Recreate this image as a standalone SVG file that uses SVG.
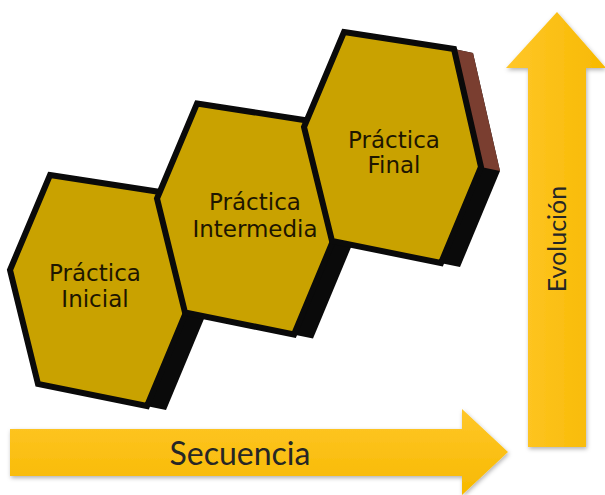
<svg xmlns="http://www.w3.org/2000/svg" width="605" height="495" viewBox="0 0 605 495">
<defs>
<style>
.hex{fill:#C9A200;stroke:#0A0A0A;stroke-width:6;stroke-linejoin:miter}
.ext{fill:#0A0A0A}
.side{fill:#7A3E30}
.lbl{font-family:"DejaVu Sans",Verdana,sans-serif;font-size:23px;fill:#1E1600;text-anchor:middle}
.arr{font-family:Lato,"Liberation Sans",sans-serif;fill:#262626;text-anchor:middle}
</style>
<linearGradient id="gh" x1="0" y1="0" x2="0" y2="1">
<stop offset="0" stop-color="#FFC72A"/>
<stop offset="1" stop-color="#F7B900"/>
</linearGradient>
<linearGradient id="gv" x1="0" y1="0" x2="1" y2="0">
<stop offset="0" stop-color="#FFC72A"/>
<stop offset="1" stop-color="#F7B900"/>
</linearGradient>
<filter id="sh" x="-10%" y="-10%" width="120%" height="130%">
<feDropShadow dx="1" dy="2" stdDeviation="2" flood-color="#000" flood-opacity="0.3"/>
</filter>
<polygon id="hexshape" points="50,175 160,192 187,310 147,406 38,384 10,270"/>
<polygon id="hexext" points="50,175 160,192 179,196 206,314 166,410 38,384 10,270"/>
</defs>
<rect width="605" height="495" fill="#FFFFFF"/>
<g id="connectors">
<polygon id="arrow-secuencia" points="10,429 462,429 462,409 508,452 462,495 462,476 10,476" fill="url(#gh)" filter="url(#sh)"/>
<polygon id="arrow-evolucion" points="557,12 606,68 586,68 586,447 528,447 528,68 506,68" fill="url(#gv)" filter="url(#sh)"/>
</g>
<g id="label-secuencia"><text class="arr" x="240" y="465" font-size="32">Secuencia</text></g>
<g id="label-evolucion"><text class="arr" font-size="25" transform="translate(566,239) rotate(-90)">Evolución</text></g>
<g id="node-inicial">
<use href="#hexext" class="ext"/>
<use href="#hexshape" class="hex"/>
<text class="lbl" x="95" y="281">Práctica</text>
<text class="lbl" x="95" y="307">Inicial</text>
</g>
<g id="node-intermedia">
<g transform="translate(147,-71.5)">
<use href="#hexext" class="ext"/>
<use href="#hexshape" class="hex"/>
</g>
<text class="lbl" x="255" y="210">Práctica</text>
<text class="lbl" x="255" y="237">Intermedia</text>
</g>
<g id="node-final">
<g transform="translate(294,-143)">
<use href="#hexext" class="ext"/>
<polygon class="side" points="160,192 179,196 206,314 187,310"/>
<use href="#hexshape" class="hex"/>
</g>
<text class="lbl" x="394" y="148">Práctica</text>
<text class="lbl" x="394" y="173">Final</text>
</g>
</svg>
